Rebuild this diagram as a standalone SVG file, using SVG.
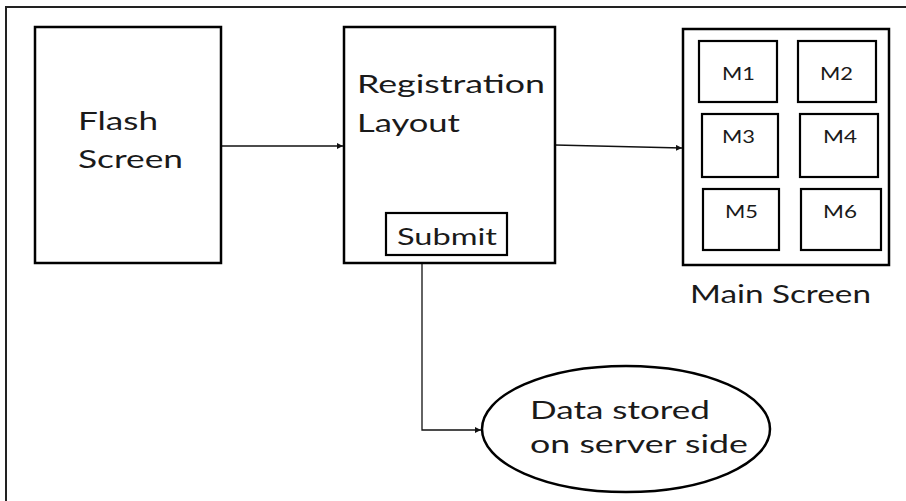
<svg xmlns="http://www.w3.org/2000/svg" width="906" height="501" viewBox="0 0 906 501">
  <style>
    .box { fill: #fff; stroke: #000; stroke-width: 2.5; }
    .sub { fill: #fff; stroke: #000; stroke-width: 2.2; }
    .frame { fill: none; stroke: #222; stroke-width: 2; }
    .conn { fill: none; stroke: #111; stroke-width: 1.3; }
    .lbl { font-family: Lato, "Open Sans", "Liberation Sans", sans-serif; fill: #1a1a1a; }
    .big { font-size: 25px; }
    .mid { font-size: 23px; }
    .sm { font-size: 18px; }
  </style>
  <defs>
    <marker id="arrow" viewBox="0 0 10 10" refX="10" refY="5" markerWidth="6" markerHeight="6" markerUnits="userSpaceOnUse" orient="auto">
      <path d="M0,0 L10,5 L0,10 z" fill="#111"/>
    </marker>
  </defs>

  <rect width="906" height="501" fill="#fff"/>
  <!-- page frame (runs past the right and bottom edges) -->
  <rect class="frame" x="6" y="7" width="1000" height="1000"/>

  <g id="connectors">
    <line class="conn" x1="221" y1="146" x2="343" y2="146" marker-end="url(#arrow)"/>
    <line class="conn" x1="555" y1="145" x2="682" y2="148" marker-end="url(#arrow)"/>
    <polyline class="conn" points="422,255 422,430 481,430" marker-end="url(#arrow)"/>
  </g>

  <g id="flash-screen">
    <rect class="box" x="35" y="27" width="186" height="236"/>
    <text class="lbl big" x="78" y="130" textLength="80" lengthAdjust="spacingAndGlyphs">Flash</text>
    <text class="lbl big" x="78" y="168" textLength="105" lengthAdjust="spacingAndGlyphs">Screen</text>
  </g>

  <g id="registration-layout">
    <rect class="box" x="344" y="27" width="211" height="236"/>
    <text class="lbl big" x="357" y="93" textLength="188" lengthAdjust="spacingAndGlyphs">Registration</text>
    <text class="lbl big" x="357" y="132" textLength="103" lengthAdjust="spacingAndGlyphs">Layout</text>
  </g>

  <g id="submit">
    <rect class="sub" x="386" y="213" width="121" height="42"/>
    <text class="lbl mid" x="397" y="245" textLength="100" lengthAdjust="spacingAndGlyphs">Submit</text>
  </g>

  <g id="main-screen">
    <rect class="box" x="683" y="29" width="206" height="236"/>
    <rect class="sub" x="699" y="41" width="78" height="61"/>
    <rect class="sub" x="798" y="41" width="78" height="61"/>
    <rect class="sub" x="702" y="114" width="76" height="63"/>
    <rect class="sub" x="800" y="114" width="78" height="63"/>
    <rect class="sub" x="703" y="189" width="76" height="61"/>
    <rect class="sub" x="801" y="189" width="80" height="61"/>
    <text class="lbl sm" x="722" y="80" textLength="33" lengthAdjust="spacingAndGlyphs">M1</text>
    <text class="lbl sm" x="820" y="80" textLength="33" lengthAdjust="spacingAndGlyphs">M2</text>
    <text class="lbl sm" x="722" y="143" textLength="33" lengthAdjust="spacingAndGlyphs">M3</text>
    <text class="lbl sm" x="823" y="143" textLength="34" lengthAdjust="spacingAndGlyphs">M4</text>
    <text class="lbl sm" x="725" y="218" textLength="33" lengthAdjust="spacingAndGlyphs">M5</text>
    <text class="lbl sm" x="823" y="218" textLength="34" lengthAdjust="spacingAndGlyphs">M6</text>
    <text class="lbl big" x="690" y="303" textLength="181" lengthAdjust="spacingAndGlyphs">Main Screen</text>
  </g>

  <g id="data-stored">
    <ellipse class="box" cx="626" cy="429" rx="144" ry="63"/>
    <text class="lbl big" x="530" y="419" textLength="180" lengthAdjust="spacingAndGlyphs">Data stored</text>
    <text class="lbl big" x="530" y="453" textLength="218" lengthAdjust="spacingAndGlyphs">on server side</text>
  </g>
</svg>
